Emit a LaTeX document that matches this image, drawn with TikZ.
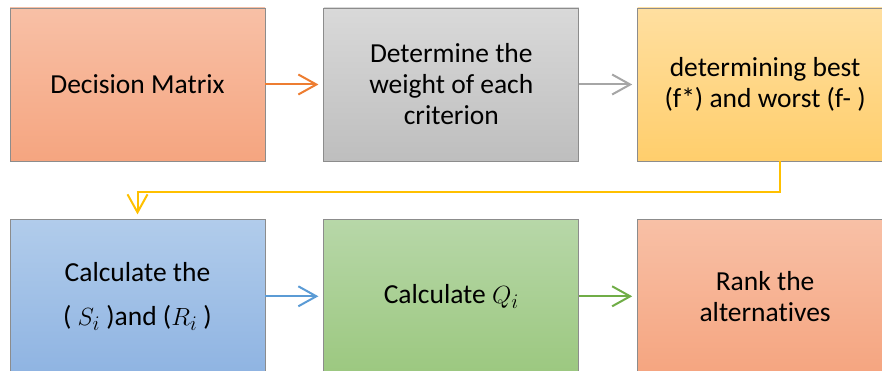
\documentclass[tikz,border=0pt]{standalone}
\usepackage{fontspec}
\setmainfont[Ligatures=NoCommon]{Carlito}
\definecolor{cEdge}{HTML}{8C8C8C}
\definecolor{cSalmonA}{HTML}{F8C0A6}
\definecolor{cSalmonB}{HTML}{F5A580}
\definecolor{cGreyA}{HTML}{D9D9D9}
\definecolor{cGreyB}{HTML}{BEBEBE}
\definecolor{cGoldA}{HTML}{FFDFA0}
\definecolor{cGoldB}{HTML}{FFCE6C}
\definecolor{cBlueA}{HTML}{B1CCEB}
\definecolor{cBlueB}{HTML}{8FB4E2}
\definecolor{cGreenA}{HTML}{B7D7A8}
\definecolor{cGreenB}{HTML}{9CC880}
\definecolor{cOrange}{HTML}{ED7D31}
\definecolor{cGrey}{HTML}{A6A6A6}
\definecolor{cGold}{HTML}{FFC000}
\definecolor{cBlue}{HTML}{5B9BD5}
\definecolor{cGreen}{HTML}{70AD47}
\usetikzlibrary{positioning,arrows.meta}

\begin{document}
\begin{tikzpicture}[x=1pt,y=1pt,
      stage/.style 2 args={draw=cEdge,line width=0.8pt,top color=#1,bottom color=#2,
        minimum width=255pt,minimum height=153pt,inner sep=0pt,align=center,
        font=\fontsize{27.5}{31}\selectfont},
      flow/.style={line width=2pt,-{Straight Barb[length=18pt,width=20pt]},shorten >=5pt}]
    \useasboundingbox (0,0) rectangle (882,-371);
    \clip (0,0) rectangle (882,-371);
    % first row
    \node[stage={cSalmonA}{cSalmonB}] (dm) at (137.5,-84.5) {Decision Matrix};
    \node[stage={cGreyA}{cGreyB},right=58pt of dm] (wt) {Determine the\\weight of each\\criterion};
    \node[stage={cGoldA}{cGoldB},right=58pt of wt] (fb) {determining best\\(f*) and worst (f- )};
    % second row
    \node[stage={cBlueA}{cBlueB},below=58pt of dm] (sr) {Calculate the\\[13pt]( $S_i$ )and ($R_i$ )};
    \node[stage={cGreenA}{cGreenB},right=58pt of sr] (qi) {Calculate $Q_i$};
    \node[stage={cSalmonA}{cSalmonB},right=58pt of qi] (rk) {Rank the\\alternatives};
    % connectors
    \draw[flow,color=cOrange] (dm) -- (wt);
    \draw[flow,color=cGrey] (wt) -- (fb);
    \draw[flow,color=cGold] ([xshift=15pt]fb.south) |- ([yshift=27pt]sr.north) -- (sr.north);
    \draw[flow,color=cBlue] (sr) -- (qi);
    \draw[flow,color=cGreen] (qi) -- (rk);
  \end{tikzpicture}
\end{document}
